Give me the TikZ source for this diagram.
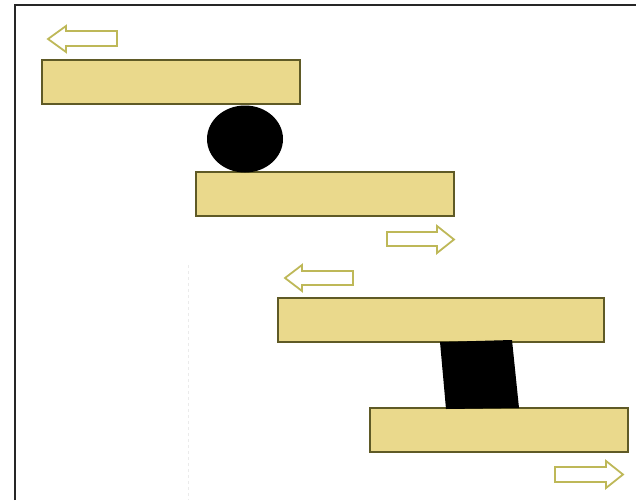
\documentclass[tikz,border=0pt]{standalone}
\begin{document}
\begin{tikzpicture}[x=1pt,y=-1pt,
  plank/.style={fill=plankfill,draw=plankedge,line width=1.7pt},
  arrowshape/.style={fill=white,draw=arrowedge,line width=1.8pt,line join=miter},
  body/.style={fill=black}]
\definecolor{plankfill}{RGB}{234,217,140}
\definecolor{plankedge}{RGB}{95,90,38}
\definecolor{arrowedge}{RGB}{190,184,88}
\useasboundingbox (0,0) rectangle (636,500);
% frame
\draw[line width=1.3pt,black!85] (15,500) -- (15,5) -- (636,5);
% faint dashed guide
\draw[black!8,dashed,line width=0.8pt] (188,265) -- (188,500);
% planks
\draw[plank] (42,60) rectangle (300,104);
\draw[plank] (196,172) rectangle (454,216);
\draw[plank] (278,298) rectangle (604,342);
\draw[plank] (370,408) rectangle (628,452);
% ball
\fill[body] (245,139) ellipse [x radius=38, y radius=33.5];
% block
\fill[body] (440,342) -- (512,340) -- (519,408) -- (446,409) -- cycle;
% arrows
\draw[arrowshape] (117,31) -- (66,31) -- (66,26) -- (48,39) -- (66,52) -- (66,46) -- (117,46) -- cycle;
\draw[arrowshape] (387,232) -- (437,232) -- (437,226) -- (454,239.5) -- (437,253) -- (437,246) -- (387,246) -- cycle;
\draw[arrowshape] (353,271) -- (302,271) -- (302,265) -- (285,278) -- (302,291) -- (302,285) -- (353,285) -- cycle;
\draw[arrowshape] (555,467) -- (606,467) -- (606,461) -- (623,474.5) -- (606,488) -- (606,482) -- (555,482) -- cycle;
\end{tikzpicture}
\end{document}
